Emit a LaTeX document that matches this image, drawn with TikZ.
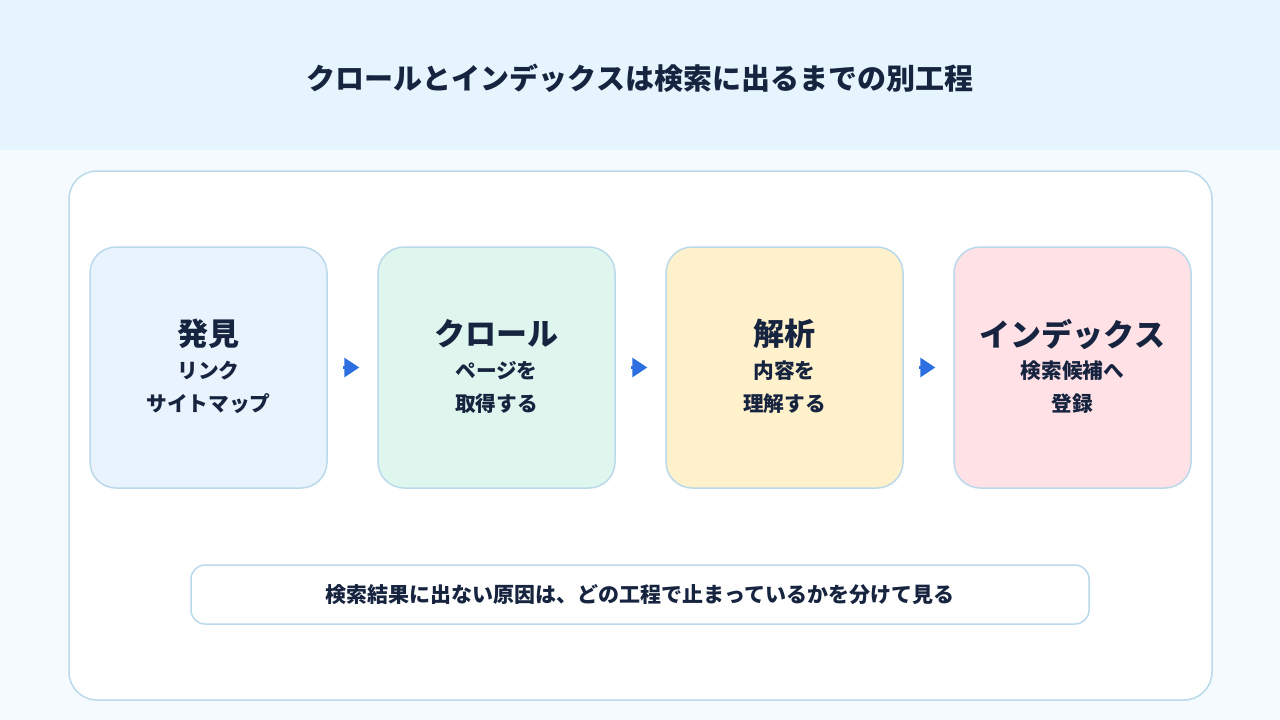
\documentclass[tikz,border=0pt]{standalone}
\usepackage{fontspec}
\setmainfont{Noto Sans CJK JP}
\usetikzlibrary{arrows.meta}
\definecolor{pagebg}{HTML}{F5FAFE}
\definecolor{headbg}{HTML}{E6F4FE}
\definecolor{edge}{HTML}{BAD9EA}
\definecolor{ink}{HTML}{17243F}
\definecolor{fillA}{HTML}{E9F3FD}
\definecolor{fillB}{HTML}{DFF6EF}
\definecolor{fillC}{HTML}{FFF1CC}
\definecolor{fillD}{HTML}{FFE1E6}
\definecolor{arrowblue}{HTML}{2C6FE0}
\tikzset{
  stagebox/.style={draw=edge, line width=1.5pt, rounded corners=26pt, minimum width=237pt, minimum height=241pt, inner sep=0pt},
  stagetitle/.style={text=ink, font=\bfseries\fontsize{31}{37}\selectfont, inner sep=0pt},
  stagesub/.style={text=ink, font=\bfseries\fontsize{20.7}{25}\selectfont, inner sep=0pt},
  flowarrow/.style={draw=arrowblue, line width=3pt, -{Triangle[length=15pt,width=19pt]}, shorten <=15pt, shorten >=18pt},
}
\begin{document}
\begin{tikzpicture}[x=1pt,y=-1pt]
\useasboundingbox (0,0) rectangle (1280,720);
\fill[pagebg] (0,0) rectangle (1280,720);
\fill[headbg] (0,0) rectangle (1280,150);
\node[text=ink, font=\bfseries\fontsize{29}{35}\selectfont, inner sep=0pt] (title) at (640,78) {クロールとインデックスは検索に出るまでの別工程};
\node[draw=edge, fill=white, line width=1.5pt, rounded corners=28pt, minimum width=1143pt, minimum height=529pt, inner sep=0pt] (panel) at (640.5,435.5) {};
\node[stagebox, fill=fillA] (b1) at (208.5,367.5) {};
\node[stagebox, fill=fillB] (b2) at (496.5,367.5) {};
\node[stagebox, fill=fillC] (b3) at (784.5,367.5) {};
\node[stagebox, fill=fillD] (b4) at (1072.5,367.5) {};
\node[stagetitle] (t1) at (208.5,334) {発見};
\node[stagesub] (s1a) at (208.5,371) {リンク};
\node[stagesub] (s1b) at (208.5,404) {サイトマップ};
\node[stagetitle] (t2) at (496.5,334) {クロール};
\node[stagesub] (s2a) at (496.5,371) {ページを};
\node[stagesub] (s2b) at (496.5,404) {取得する};
\node[stagetitle] (t3) at (784.5,334) {解析};
\node[stagesub] (s3a) at (784.5,371) {内容を};
\node[stagesub] (s3b) at (784.5,404) {理解する};
\node[stagetitle] (t4) at (1072.5,334) {インデックス};
\node[stagesub] (s4a) at (1072.5,371) {検索候補へ};
\node[stagesub] (s4b) at (1072.5,404) {登録};
\draw[flowarrow] (b1) -- (b2);
\draw[flowarrow] (b2) -- (b3);
\draw[flowarrow] (b3) -- (b4);
\node[draw=edge, fill=white, line width=1.5pt, rounded corners=14pt, minimum width=898pt, minimum height=59pt, inner sep=0pt, text=ink, font=\bfseries\fontsize{21}{25}\selectfont] (note) at (640,594.5) {検索結果に出ない原因は、どの工程で止まっているかを分けて見る};
\end{tikzpicture}
\end{document}
